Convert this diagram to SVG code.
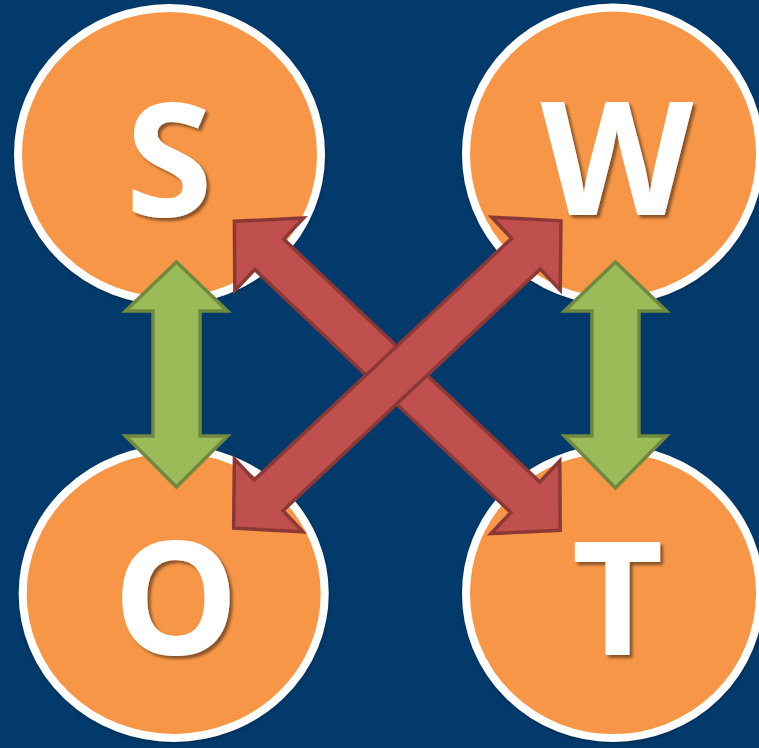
<svg xmlns="http://www.w3.org/2000/svg" width="759" height="748" viewBox="0 0 759 748">
  <defs>
    <style>
      .circle { fill: #F79646; stroke: #FFFFFF; stroke-width: 8; filter: url(#soft); }
      .letter { fill: #FFFFFF; font-family: "Open Sans", "Liberation Sans", sans-serif; font-weight: 700; font-size: 158px; text-anchor: middle; filter: url(#txtShadow); }
      .red { fill: #C0504D; stroke: #8C3836; stroke-width: 3.5; stroke-linejoin: miter; }
      .green { fill: #9BBB59; stroke: #71893F; stroke-width: 3.5; stroke-linejoin: miter; }
    </style>
    <filter id="txtShadow" x="-20%" y="-20%" width="150%" height="150%">
      <feDropShadow dx="3" dy="3" stdDeviation="1.5" flood-color="#000000" flood-opacity="0.45"/>
    </filter>
    <filter id="soft" x="-10%" y="-10%" width="120%" height="120%">
      <feDropShadow dx="0" dy="1" stdDeviation="1.5" flood-color="#000000" flood-opacity="0.35"/>
    </filter>
    <path id="redArrow" d="M-224.5,0 L-176.5,-50 L-176.5,-21 L176.5,-21 L176.5,-50 L224.5,0 L176.5,50 L176.5,21 L-176.5,21 L-176.5,50 Z"/>
  </defs>
  <rect x="0" y="0" width="759" height="748" fill="#013A6B"/>

  <g id="node-S">
    <ellipse class="circle" cx="169.5" cy="154.5" rx="151.5" ry="146.5"/>
    <text class="letter" x="169" y="216">S</text>
  </g>
  <g id="node-W">
    <ellipse class="circle" cx="613" cy="154" rx="147" ry="146.5"/>
    <text class="letter" x="617" y="215">W</text>
  </g>
  <g id="node-O">
    <ellipse class="circle" cx="173.7" cy="593.5" rx="151" ry="144.5"/>
    <text class="letter" x="176" y="654">O</text>
  </g>
  <g id="node-T">
    <ellipse class="circle" cx="613" cy="593.5" rx="147" ry="144.5"/>
    <text class="letter" x="617.5" y="655">T</text>
  </g>

  <g id="connectors">
    <use href="#redArrow" class="red" transform="translate(397.3,375.8) rotate(43.48)"/>
    <use href="#redArrow" class="red" transform="translate(397.3,374.5) rotate(-43.19)"/>
    <path class="green" d="M176.5,262 L227.5,311 L200,311 L200,436 L227.5,436 L176.5,487 L125.5,436 L153,436 L153,311 L125.5,311 Z"/>
    <path class="green" d="M615.5,262 L666.5,311 L639,311 L639,436 L666.5,436 L615.5,488 L564.5,436 L592,436 L592,311 L564.5,311 Z"/>
  </g>
</svg>
